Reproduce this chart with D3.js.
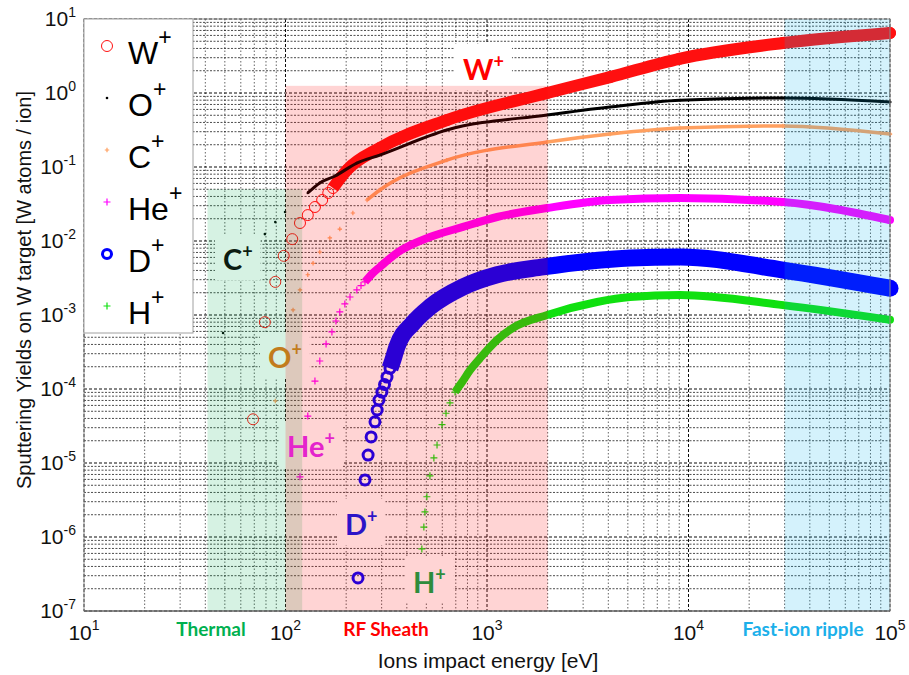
<!DOCTYPE html>
<html>
<head>
<meta charset="utf-8">
<script src="https://cdn.jsdelivr.net/npm/d3@7"></script>
<style>
  body { margin: 0; background: #fff; }
  svg { display: block; }
  text { font-family: Arial, "Liberation Sans", sans-serif; }
  .tag { font-family: Lato, "Open Sans", sans-serif; font-weight: 700; }
</style>
</head>
<body>
<svg width="909" height="675"></svg>
<script>
// ---- data (energy in eV, yield in W atoms / ion) ----
const xTickValues = [1e1, 1e2, 1e3, 1e4, 1e5]
const yTickValues = [1e-7, 1e-6, 1e-5, 1e-4, 1e-3, 1e-2, 1e-1, 1e0, 1e1]
const xTickExp = ["1", "2", "3", "4", "5"]
const yTickExp = ["-7", "-6", "-5", "-4", "-3", "-2", "-1", "0", "1"]

const ionNames = ["W", "O", "C", "He", "D", "H"]

const wEnergy = [69, 79, 89, 98, 108, 118, 129, 140, 152, 163, 172, 202, 294, 632, 1990, 4080, 9000, 29400, 100000]
const wYield  = [3.9e-5, 8.0e-4, 2.8e-3, 6.3e-3, 0.0106, 0.0175, 0.0224, 0.0288, 0.0358, 0.0446, 0.052, 0.091, 0.181, 0.43, 1.0, 1.64, 2.9, 4.74, 6.47]

const oEnergy = [49, 79, 89, 99.5, 129, 148, 176, 226, 294, 632, 1990, 4080, 9080, 29400, 100000]
const oYield  = [5.7e-4, 0.0124, 0.018, 0.0247, 0.0446, 0.061, 0.0755, 0.113, 0.145, 0.316, 0.505, 0.648, 0.80, 0.856, 0.755]

const cEnergy = [89, 109, 118, 129, 137, 148, 166, 186, 216, 254, 294, 632, 1990, 4080, 9080, 29400, 100000]
const cYield  = [6.9e-5, 1.17e-3, 2.18e-3, 3.5e-3, 5.0e-3, 7.1e-3, 0.011, 0.0145, 0.0239, 0.0358, 0.0489, 0.124, 0.218, 0.279, 0.336, 0.358, 0.279]

const heEnergy = [118, 129, 140, 148, 159, 170, 178, 186, 197, 209, 226, 237, 248, 272, 294, 357, 521, 760, 1122, 1990, 4080, 9080, 29400, 100000]
const heYield  = [6.5e-6, 4.3e-5, 1.28e-4, 2.39e-4, 4.06e-4, 5.9e-4, 8.3e-4, 1.1e-3, 1.41e-3, 1.75e-3, 2.18e-3, 2.5e-3, 2.8e-3, 3.7e-3, 4.46e-3, 6.9e-3, 0.0113, 0.0155, 0.0211, 0.0279, 0.0358, 0.038, 0.0336, 0.0192]

const dEnergy = [229, 248, 257, 266, 278, 285, 291, 301, 310, 319, 330, 340, 357, 430, 521, 760, 1122, 1900, 5130, 9080, 29400, 100000]
const dYield  = [2.8e-7, 5.9e-6, 1.28e-5, 2.25e-5, 3.6e-5, 5.2e-5, 7.1e-5, 9.1e-5, 1.15e-4, 1.45e-4, 1.9e-4, 2.4e-4, 3.7e-4, 7.8e-4, 1.28e-3, 2.39e-3, 3.5e-3, 4.46e-3, 5.9e-3, 6.1e-3, 4.05e-3, 2.3e-3]

const hEnergy = [475, 486, 492, 503, 521, 545, 565, 598, 626, 655, 694, 720, 752, 824, 923, 1122, 1346, 1990, 3515, 5130, 9080, 29400, 100000]
const hYield  = [6.9e-7, 1.36e-6, 2.18e-6, 3.5e-6, 6.7e-6, 1.17e-5, 1.75e-5, 3.3e-5, 4.7e-5, 6.5e-5, 9.1e-5, 1.05e-4, 1.24e-4, 1.8e-4, 2.6e-4, 4.6e-4, 6.7e-4, 1.0e-3, 1.5e-3, 1.75e-3, 1.86e-3, 1.36e-3, 8.6e-4]

// energy ranges of the shaded regimes [eV] and their upper yield
const regimeNames = ["Thermal", "RF Sheath", "Fast-ion ripple"]
const regimeFrom  = [41, 100, 3e4]
const regimeTo    = [121, 2000, 1e5]
const regimeTop   = [0.05, 1.25, 10]

// ---- layout ----
const svg = d3.select("svg")
const plotL = 84, plotR = 890, plotT = 19, plotB = 611

const x = d3.scaleLog().domain([1e1, 1e5]).range([plotL, plotR])
const y = d3.scaleLog().domain([1e-7, 1e1]).range([plotB, plotT])

const gridG = svg.append("g")
const boxG = svg.append("g")
const dataG = svg.append("g")
const shadeG = svg.append("g")
const tagG = svg.append("g")
const axisG = svg.append("g")
const legendG = svg.append("g")

// plot background
gridG.append("rect")
  .attr("x", plotL).attr("y", plotT)
  .attr("width", plotR - plotL).attr("height", plotB - plotT)
  .attr("fill", "#fff")

// grid: log ticks from d3 give 1..9 x 10^k
const isMajor = v => Math.abs(Math.log10(v) - Math.round(Math.log10(v))) < 1e-6

x.ticks().forEach(v => {
  gridG.append("line")
    .attr("x1", x(v)).attr("x2", x(v))
    .attr("y1", plotT).attr("y2", plotB)
    .attr("stroke", "#000")
    .attr("stroke-width", 1)
    .attr("stroke-dasharray", isMajor(v) ? "3,2" : "1.5,2")
    .attr("opacity", isMajor(v) ? 0.95 : 0.6)
})

y.ticks().forEach(v => {
  gridG.append("line")
    .attr("x1", plotL).attr("x2", plotR)
    .attr("y1", y(v)).attr("y2", y(v))
    .attr("stroke", "#000")
    .attr("stroke-width", 1)
    .attr("stroke-dasharray", isMajor(v) ? "3,2" : "2,1.5")
    .attr("opacity", isMajor(v) ? 0.95 : 0.7)
})

// ---- series ----
const series = [
  { E: wEnergy, Y: wYield, color: "#ff1010", marker: "circle", size: 5.5, sw: 1, band: 12, bandFrom: 172 },
  { E: oEnergy, Y: oYield, color: "#000000", marker: "dot", size: 1.3, sw: 0, band: 3, bandFrom: 129 },
  { E: cEnergy, Y: cYield, color: "#ffa060", marker: "plus", size: 2.2, sw: 1.2, band: 3.5, bandFrom: 254 },
  { E: heEnergy, Y: heYield, color: "#ff00ff", marker: "plus", size: 3.5, sw: 1.2, band: 8, bandFrom: 248 },
  { E: dEnergy, Y: dYield, color: "#0000ff", marker: "circle", size: 5, sw: 3, band: 17, bandFrom: 330 },
  { E: hEnergy, Y: hYield, color: "#10e010", marker: "plus", size: 3.5, sw: 1.2, band: 8, bandFrom: 694 }
]

const line = d3.line()
  .x(d => x(d[0]))
  .y(d => y(d[1]))
  .curve(d3.curveMonotoneX)

function drawMarker(sel, s) {
  if (s.marker === "circle") {
    sel.append("circle").attr("r", s.size)
      .attr("fill", "none").attr("stroke", s.color).attr("stroke-width", s.sw)
  } else if (s.marker === "dot") {
    sel.append("circle").attr("r", s.size).attr("fill", s.color)
  } else {
    const k = s.size
    sel.append("path")
      .attr("d", `M${-k},0H${k}M0,${-k}V${k}`)
      .attr("stroke", s.color).attr("stroke-width", s.sw).attr("fill", "none")
  }
}

series.forEach(s => {
  const pts = s.E.map((e, i) => [e, s.Y[i]])
  const bandPts = pts.filter(p => p[0] >= s.bandFrom)
  dataG.append("path")
    .attr("d", line(bandPts))
    .attr("fill", "none")
    .attr("stroke", s.color)
    .attr("stroke-width", s.band)
    .attr("stroke-linecap", "butt")
  pts.forEach(p => {
    const m = dataG.append("g").attr("transform", `translate(${x(p[0])},${y(p[1])})`)
    drawMarker(m, s)
  })
  // rounded end at the high-energy side, like the piled-up markers
  const last = pts[pts.length - 1]
  dataG.append("circle")
    .attr("cx", x(last[0])).attr("cy", y(last[1]))
    .attr("r", s.band / 2).attr("fill", s.color)
})

// ---- shaded regimes (drawn over the data, as in the figure) ----
const regimeFill = ["rgba(0,176,80,0.16)", "rgba(255,0,0,0.17)", "rgba(0,176,240,0.17)"]
regimeNames.forEach((n, i) => {
  shadeG.append("rect")
    .attr("x", x(regimeFrom[i]))
    .attr("y", y(regimeTop[i]))
    .attr("width", x(regimeTo[i]) - x(regimeFrom[i]))
    .attr("height", plotB - y(regimeTop[i]))
    .attr("fill", regimeFill[i])
})

// ---- in-plot ion tags (boxes hide the grid, shading tints them) ----
const tagX = [463, 268, 223, 287, 345, 413]
const tagY = [80, 368, 270, 457, 535, 593]
const tagColor = ["#ff0000", "#c27c1c", "#0c1c10", "#e424cc", "#2c14c8", "#2e8c3c"]
const tagOrder = ["W", "O", "C", "He", "D", "H"]

tagOrder.forEach((n, i) => {
  const t = tagG.append("text")
    .attr("class", "tag")
    .attr("x", tagX[i]).attr("y", tagY[i])
    .attr("font-size", 29)
    .attr("fill", tagColor[i])
  t.append("tspan").text(n)
  t.append("tspan").text("+").attr("font-size", 18).attr("dy", -12)
  const b = t.node().getBBox()
  boxG.append("rect")
    .attr("x", b.x - 8).attr("y", b.y - 6)
    .attr("width", b.width + 16).attr("height", b.height + 10)
    .attr("fill", "#fff")
})

// ---- axes ----
axisG.append("rect")
  .attr("x", plotL).attr("y", plotT)
  .attr("width", plotR - plotL).attr("height", plotB - plotT)
  .attr("fill", "none").attr("stroke", "#8a8a8a").attr("stroke-width", 1)

axisG.append("line")
  .attr("x1", plotL).attr("x2", plotR).attr("y1", plotB).attr("y2", plotB)
  .attr("stroke", "#555")

xTickValues.forEach((v, i) => {
  const t = axisG.append("text")
    .attr("x", x(v)).attr("y", plotB + 29)
    .attr("text-anchor", "middle")
    .attr("font-size", 21).attr("fill", "#111")
  t.append("tspan").text("10")
  t.append("tspan").text(xTickExp[i]).attr("font-size", 14).attr("dy", -10)
})

yTickValues.forEach((v, i) => {
  const t = axisG.append("text")
    .attr("x", plotL - 8).attr("y", y(v) + 7)
    .attr("text-anchor", "end")
    .attr("font-size", 21).attr("fill", "#111")
  t.append("tspan").text("10")
  t.append("tspan").text(yTickExp[i]).attr("font-size", 14).attr("dy", -9)
})

axisG.append("text")
  .attr("x", 488).attr("y", 668)
  .attr("text-anchor", "middle")
  .attr("font-size", 21).attr("fill", "#111")
  .text("Ions impact energy [eV]")

axisG.append("text")
  .attr("transform", "translate(31,290) rotate(-90)")
  .attr("text-anchor", "middle")
  .attr("font-size", 20).attr("fill", "#111")
  .text("Sputtering Yields on W target [W atoms / ion]")

// regime names under the axis
const regimeColor = ["#00b050", "#ff0000", "#1cb0ea"]
const regimeLabelX = [211, 386, 803]
regimeNames.forEach((n, i) => {
  axisG.append("text")
    .attr("class", "tag")
    .attr("x", regimeLabelX[i]).attr("y", 636)
    .attr("text-anchor", "middle")
    .attr("font-size", 19)
    .attr("fill", regimeColor[i])
    .text(n)
})

// ---- legend ----
legendG.append("rect")
  .attr("x", plotL).attr("y", plotT)
  .attr("width", 109).attr("height", 314)
  .attr("fill", "#fff").attr("stroke", "#a0a0a0")

const legendStep = 52
const legendSize = [5.5, 1.3, 2.2, 3.5, 4.5, 3.5]
ionNames.forEach((n, i) => {
  const cy = 46 + i * legendStep
  const m = legendG.append("g").attr("transform", `translate(107,${cy})`)
  drawMarker(m, Object.assign({}, series[i], { size: legendSize[i] }))
  const t = legendG.append("text")
    .attr("x", 128).attr("y", cy + 18)
    .attr("font-size", 32).attr("fill", "#000")
  t.append("tspan").text(n)
  t.append("tspan").text("+").attr("font-size", 23).attr("dy", -19)
})
</script>
</body>
</html>
